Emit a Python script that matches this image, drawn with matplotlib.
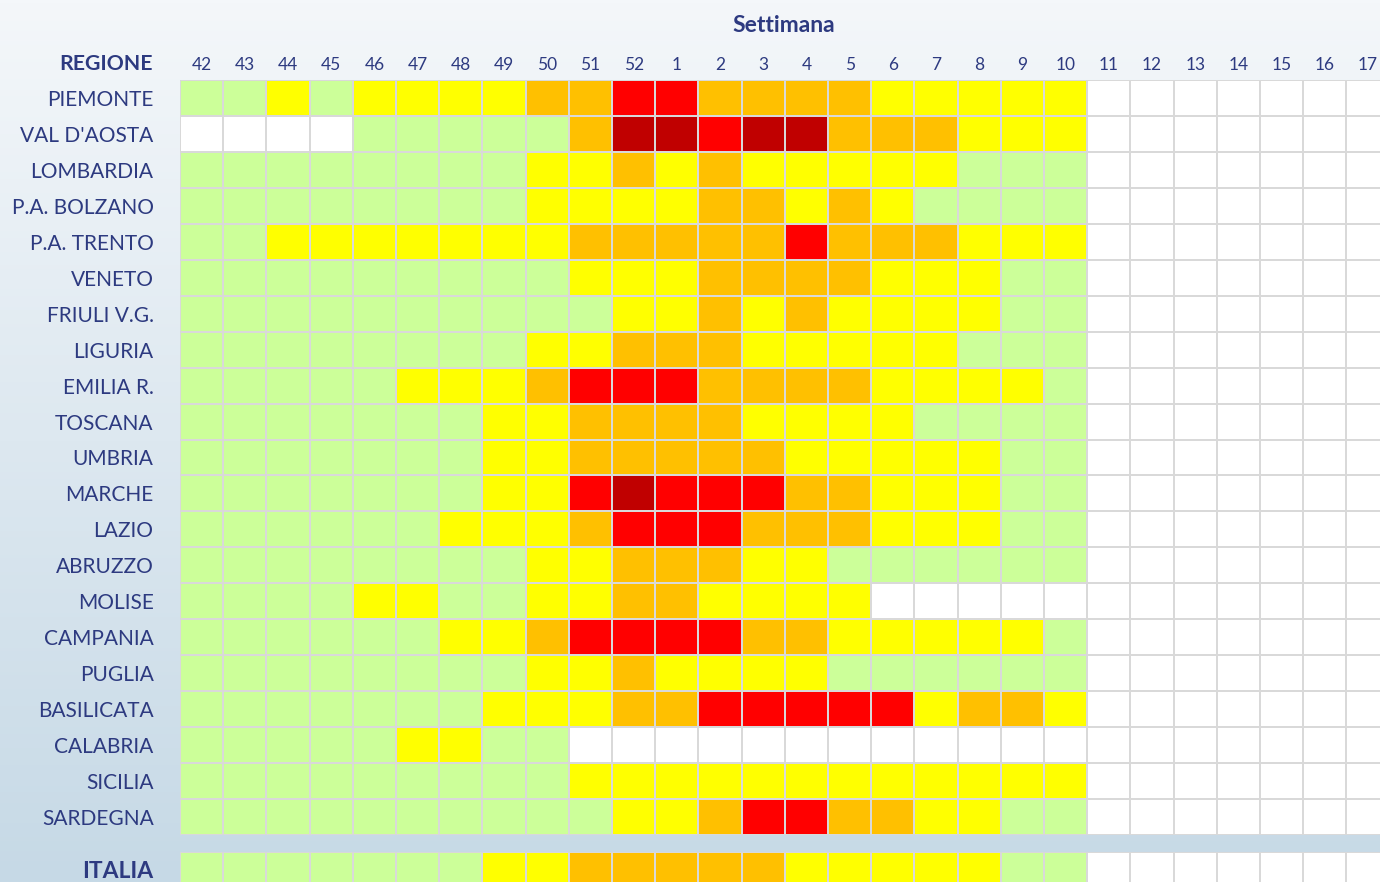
import numpy as np
import matplotlib
matplotlib.use("Agg")
import matplotlib.pyplot as plt
from matplotlib.colors import ListedColormap, BoundaryNorm, LinearSegmentedColormap

# ---------------- data ----------------
weeks = ["42", "43", "44", "45", "46", "47", "48", "49", "50", "51", "52",
         "1", "2", "3", "4", "5", "6", "7", "8", "9", "10",
         "11", "12", "13", "14", "15", "16", "17"]

regions = ["PIEMONTE", "VAL D'AOSTA", "LOMBARDIA", "P.A. BOLZANO", "P.A. TRENTO",
           "VENETO", "FRIULI V.G.", "LIGURIA", "EMILIA R.", "TOSCANA", "UMBRIA",
           "MARCHE", "LAZIO", "ABRUZZO", "MOLISE", "CAMPANIA", "PUGLIA",
           "BASILICATA", "CALABRIA", "SICILIA", "SARDEGNA"]

# level codes: 0 = n.d., 1 = basso, 2 = medio-basso, 3 = medio, 4 = alto, 5 = molto alto
piemonte   = [1,1,2,1,2,2,2,2,3,3,4,4,3,3,3,3,2,2,2,2,2]
val_aosta  = [0,0,0,0,1,1,1,1,1,3,5,5,4,5,5,3,3,3,2,2,2]
lombardia  = [1,1,1,1,1,1,1,1,2,2,3,2,3,2,2,2,2,2,1,1,1]
bolzano    = [1,1,1,1,1,1,1,1,2,2,2,2,3,3,2,3,2,1,1,1,1]
trento     = [1,1,2,2,2,2,2,2,2,3,3,3,3,3,4,3,3,3,2,2,2]
veneto     = [1,1,1,1,1,1,1,1,1,2,2,2,3,3,3,3,2,2,2,1,1]
friuli     = [1,1,1,1,1,1,1,1,1,1,2,2,3,2,3,2,2,2,2,1,1]
liguria    = [1,1,1,1,1,1,1,1,2,2,3,3,3,2,2,2,2,2,1,1,1]
emilia     = [1,1,1,1,1,2,2,2,3,4,4,4,3,3,3,3,2,2,2,2,1]
toscana    = [1,1,1,1,1,1,1,2,2,3,3,3,3,2,2,2,2,1,1,1,1]
umbria     = [1,1,1,1,1,1,1,2,2,3,3,3,3,3,2,2,2,2,2,1,1]
marche     = [1,1,1,1,1,1,1,2,2,4,5,4,4,4,3,3,2,2,2,1,1]
lazio      = [1,1,1,1,1,1,2,2,2,3,4,4,4,3,3,3,2,2,2,1,1]
abruzzo    = [1,1,1,1,1,1,1,1,2,2,3,3,3,2,2,1,1,1,1,1,1]
molise     = [1,1,1,1,2,2,1,1,2,2,3,3,2,2,2,2,0,0,0,0,0]
campania   = [1,1,1,1,1,1,2,2,3,4,4,4,4,3,3,2,2,2,2,2,1]
puglia     = [1,1,1,1,1,1,1,1,2,2,3,2,2,2,2,1,1,1,1,1,1]
basilicata = [1,1,1,1,1,1,1,2,2,2,3,3,4,4,4,4,4,2,3,3,2]
calabria   = [1,1,1,1,1,2,2,1,1,0,0,0,0,0,0,0,0,0,0,0,0]
sicilia    = [1,1,1,1,1,1,1,1,1,2,2,2,2,2,2,2,2,2,2,2,2]
sardegna   = [1,1,1,1,1,1,1,1,1,1,2,2,3,4,4,3,3,2,2,1,1]
italia     = [1,1,1,1,1,1,1,2,2,3,3,3,3,3,2,2,2,2,2,1,1]

region_rows = [piemonte, val_aosta, lombardia, bolzano, trento, veneto, friuli,
               liguria, emilia, toscana, umbria, marche, lazio, abruzzo, molise,
               campania, puglia, basilicata, calabria, sicilia, sardegna]

# ---------------- style ----------------
level_colors = ["#FFFFFF", "#CCFF99", "#FFFF00", "#FFC000", "#FF0000", "#C00000"]
cmap = ListedColormap(level_colors)
norm = BoundaryNorm(np.arange(-0.5, 6.5, 1), cmap.N)
text_color = "#2D3A80"
grid_color = "#D9D9D9"
font = "Lato"

W, H = 1380, 882
fig = plt.figure(figsize=(W / 100, H / 100), dpi=100)

# background gradient
bg = fig.add_axes([0, 0, 1, 1], zorder=-10)
grad = np.linspace(0, 1, 256).reshape(-1, 1)
bg_cmap = LinearSegmentedColormap.from_list("bg", ["#F4F7FA", "#C6D9E6"])
bg.imshow(grad, aspect="auto", cmap=bg_cmap, extent=[0, 1, 0, 1], origin="upper")
bg.set_axis_off()

n_weeks = len(weeks)
def pad(row):
    return list(row) + [0] * (n_weeks - len(row))

data = np.array([pad(r) for r in region_rows])
ital = np.array([pad(italia)])

cell_w, cell_h = 43.2, 35.95
x0, y0 = 180, 80
visible_cols = (W - x0) / cell_w

# main grid axes
ax = fig.add_axes([x0 / W, 1 - (y0 + cell_h * len(regions)) / H,
                   (W - x0) / W, cell_h * len(regions) / H])
ax.pcolormesh(data, cmap=cmap, norm=norm, edgecolors=grid_color, linewidth=1.3)
ax.set_xlim(0, visible_cols)
ax.set_ylim(len(regions), 0)
ax.set_yticks(np.arange(len(regions)) + 0.5)
ax.set_yticklabels(regions, fontsize=15, color=text_color, family=font)
ax.set_xticks(np.arange(n_weeks) + 0.5)
ax.set_xticklabels(weeks, fontsize=12.5, color=text_color, family=font)
ax.xaxis.tick_top()
ax.tick_params(axis="y", length=0, pad=19)
ax.tick_params(axis="x", length=0, pad=5)
for s in ax.spines.values():
    s.set_visible(False)

# ITALIA row
iy0 = 852
ax2 = fig.add_axes([x0 / W, 1 - (iy0 + cell_h) / H, (W - x0) / W, cell_h / H])
ax2.pcolormesh(ital, cmap=cmap, norm=norm, edgecolors=grid_color, linewidth=1.3)
ax2.set_xlim(0, visible_cols)
ax2.set_ylim(1, 0)
ax2.set_xticks([])
ax2.set_yticks([0.5])
ax2.set_yticklabels(["ITALIA"], fontsize=16.5, color=text_color, family=font,
                    fontweight="bold")
ax2.tick_params(axis="y", length=0, pad=19)
for s in ax2.spines.values():
    s.set_visible(False)

fig.text(153 / W, 1 - 64 / H, "REGIONE", ha="right", va="center", fontsize=15.3,
         fontweight="bold", color=text_color, family=font)
fig.text(784 / W, 1 - 26 / H, "Settimana", ha="center", va="center", fontsize=16.5,
         fontweight="bold", color=text_color, family=font)

fig.savefig("out.png", dpi=100)
